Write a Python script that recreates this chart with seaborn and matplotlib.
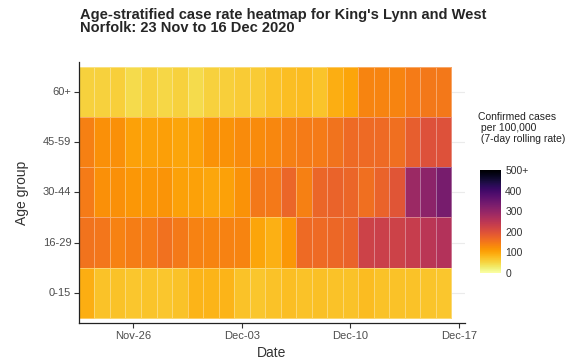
import numpy as np
import pandas as pd
import seaborn as sns
import matplotlib.pyplot as plt

# Data: 7-day rolling case rate per 100,000
dates = pd.date_range("2020-11-23", "2020-12-16", freq="D")
age_groups = ["60+", "45-59", "30-44", "16-29", "0-15"]

rate_60_plus = [55, 55, 58, 45, 55, 50, 55, 45, 55, 58, 62, 62,
                72, 75, 78, 70, 90, 100, 135, 135, 135, 145, 150, 150]
rate_45_59 = [140, 122, 122, 105, 105, 107, 100, 105, 120, 120, 128, 128,
              132, 140, 145, 145, 155, 165, 165, 165, 160, 180, 200, 200]
rate_30_44 = [145, 122, 122, 115, 115, 118, 105, 105, 98, 105, 120, 150,
              148, 170, 140, 170, 175, 170, 160, 175, 195, 290, 310, 335]
rate_16_29 = [155, 152, 138, 143, 146, 158, 148, 138, 135, 138, 135, 100,
              88, 115, 165, 165, 168, 175, 225, 230, 225, 235, 250, 260]
rate_0_15 = [90, 72, 72, 68, 70, 68, 72, 85, 85, 85, 72, 68,
             72, 75, 72, 74, 72, 72, 78, 72, 72, 72, 70, 68]

cbar_ticks = [0, 100, 200, 300, 400, 500]
cbar_labels = ["0", "100", "200", "300", "400", "500+"]


def main():
    df = pd.DataFrame(
        [rate_60_plus, rate_45_59, rate_30_44, rate_16_29, rate_0_15],
        index=age_groups,
        columns=dates,
    )

    sns.set_style("white")
    plt.rcParams["font.family"] = ["Liberation Sans", "DejaVu Sans"]

    fig = plt.figure(figsize=(5.85, 3.62), dpi=100)
    ax = fig.add_axes([0.135, 0.108, 0.66, 0.721])
    cax = fig.add_axes([0.8205, 0.246, 0.036, 0.284])

    # light horizontal grid behind the tiles
    for i in range(len(age_groups)):
        ax.axhline(i + 0.5, color="#ebebeb", lw=0.8, zorder=0)

    sns.heatmap(
        df,
        ax=ax,
        cbar_ax=cax,
        cmap="inferno_r",
        vmin=0,
        vmax=500,
        linewidths=0.4,
        linecolor=(1, 1, 1, 0.35),
        cbar_kws={"ticks": cbar_ticks},
    )

    # Axes limits and ticks
    ax.set_xlim(0, 24.9)
    ax.set_ylim(len(age_groups) + 0.1, -0.1)
    tick_dates = pd.date_range("2020-11-26", "2020-12-17", freq="7D")
    ax.set_xticks((tick_dates - dates[0]).days + 0.5)
    ax.set_xticklabels(tick_dates.strftime("%b-%d"), rotation=0)
    ax.set_yticks(np.arange(len(age_groups)) + 0.5)
    ax.set_yticklabels(age_groups, rotation=0)
    ax.tick_params(axis="both", labelsize=8, labelcolor="#4d4d4d",
                   length=3.5, width=0.8, color="#333333", pad=2,
                   bottom=True, left=True)

    for side in ["left", "bottom"]:
        ax.spines[side].set_visible(True)
        ax.spines[side].set_color("#222222")
        ax.spines[side].set_linewidth(0.9)

    ax.set_xlabel("Date", fontsize=10, color="#333333", labelpad=4)
    ax.set_ylabel("Age group", fontsize=10, color="#333333", labelpad=10)

    # Colorbar
    cax.set_yticklabels(cbar_labels)
    cax.tick_params(labelsize=7.5, labelcolor="#333333", length=3,
                    color="white", direction="in", width=0.6, pad=3)
    for s in cax.spines.values():
        s.set_visible(False)

    fig.text(0.817, 1 - 112 / 362, "Confirmed cases\n per 100,000\n (7-day rolling rate)",
             fontsize=7.5, ha="left", va="top", color="#222222", linespacing=1.15)

    fig.text(0.137, 1 - 8 / 362,
             "Age-stratified case rate heatmap for King's Lynn and West\nNorfolk: 23 Nov to 16 Dec 2020",
             fontsize=10.5, fontweight="bold", ha="left", va="top", linespacing=0.95)

    fig.savefig("out.png", dpi=100)


if __name__ == "__main__":
    main()
